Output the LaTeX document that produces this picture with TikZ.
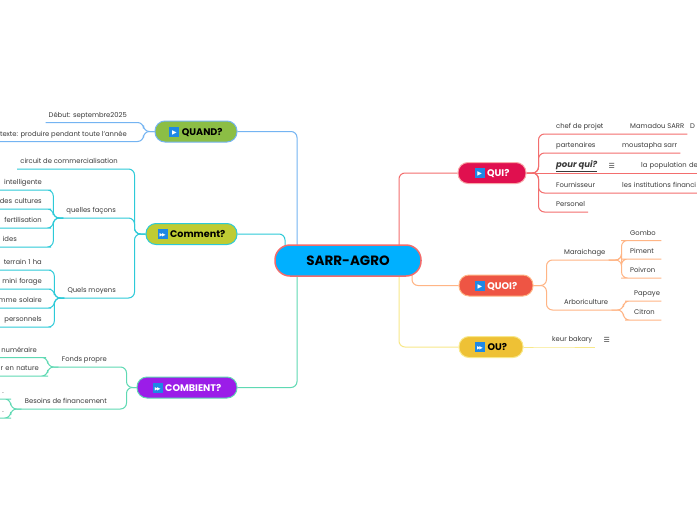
\documentclass[tikz,border=0pt]{standalone}
\usepackage{fontspec}
\setmainfont{Poppins}
\newfontfamily\symf{DejaVu Sans}
\usepackage{tikz}
\usetikzlibrary{positioning, backgrounds}
\definecolor{rootblue}{HTML}{00B0FF}
\definecolor{rootedge}{HTML}{F26B6B}
\definecolor{quandfill}{HTML}{8CBE45}
\definecolor{quandline}{HTML}{74B4F2}
\definecolor{commentfill}{HTML}{BFCC33}
\definecolor{commentline}{HTML}{2DCAD8}
\definecolor{combienfill}{HTML}{9B1DE8}
\definecolor{combienline}{HTML}{5FD9B3}
\definecolor{quifill}{HTML}{E0104F}
\definecolor{quiline}{HTML}{F36E6E}
\definecolor{quoifill}{HTML}{EE5544}
\definecolor{quoiline}{HTML}{FFB585}
\definecolor{oufill}{HTML}{EEC135}
\definecolor{ouline}{HTML}{F8E88A}
\definecolor{iconblue}{HTML}{1E88E5}
\definecolor{leafgray}{HTML}{3A3A3A}
\newcommand\iconbox[1]{\raisebox{-1.5pt}{\textcolor{iconblue}{\rule{10pt}{10pt}}}\hspace{-10pt}\makebox[10pt]{\raisebox{0.6pt}{\textcolor{white}{\symf\fontsize{6}{6}\selectfont #1}}}\hspace{2.5pt}}
\newcommand\playic{\iconbox{▶}}
\newcommand\ffwdic{\iconbox{\fontsize{4.6}{5}\selectfont▶\kern-1.2pt▶}}

\begin{document}
\begin{tikzpicture}[x=1pt, y=-1pt,
    root/.style={rectangle, rounded corners=15pt, fill=rootblue, draw=rootedge, line width=1.5pt, minimum width=146pt, minimum height=31pt, font=\fontsize{13.5}{16}\selectfont\bfseries},
    topic/.style={rectangle, rounded corners=10pt, line width=1pt, minimum height=21pt, inner sep=2pt, font=\fontsize{9.6}{11}\selectfont\bfseries},
    leaf/.style={font=\fontsize{6.8}{8}\selectfont, text=leafgray, inner xsep=3pt, inner ysep=3.5pt, text height=5pt, text depth=1.5pt},
    lleaf/.style={leaf, anchor=south east},
    rleaf/.style={leaf, anchor=south west},
    lcol/.style={lleaf, text width=60pt, align=right},
    rcol/.style={rleaf, align=left},
    link/.style={line width=1pt, rounded corners=6pt},
    note/.style={label={[font=\symf\fontsize{7}{8}\selectfont, text=leafgray, inner sep=0pt, xshift=8pt]east:☰}}
]
\useasboundingbox (0,0) rectangle (697,520);
\begin{scope}[on background layer]
\fill[white] (0,0) rectangle (697,520);
\end{scope}

\node[root] (root) at (348,260.5) {SARR-AGRO};
\node[topic, fill=quandfill, draw=quandline, minimum width=82pt] (quand) at (196,131.5) {\playic QUAND?};
\node[topic, fill=commentfill, draw=commentline, minimum width=91pt] (comment) at (191.5,234) {\ffwdic Comment?};
\node[topic, fill=combienfill, draw=combienline, text=white, minimum width=100pt] (combien) at (187,387.5) {\ffwdic COMBIENT?};
\node[topic, fill=quifill, draw=quiline!60, text=white, minimum width=68pt] (qui) at (492,173) {\playic QUI?};
\node[topic, fill=quoifill, draw=quoiline, text=white, minimum width=74pt] (quoi) at (496,285.5) {\playic QUOI?};
\node[topic, fill=oufill, draw=ouline, minimum width=64pt] (ou) at (491,347) {\ffwdic OU?};

\node[lleaf] (debut) at (130,122.5) {Début: septembre2025};
\node[lleaf] (contexte) at (130,141.5) {texte: produire pendant toute l'année};

\node[lleaf] (circuit) at (121,169) {circuit de commercialisation};
\node[lleaf] (facons) at (119,218) {quelles façons};
\node[lleaf] (moyens) at (119,298) {Quels moyens};
\node[lcol] (intel) at (45,190) {intelligente};
\node[lcol] (cult) at (45,209) {des cultures};
\node[lcol] (fert) at (45,228) {fertilisation};
\node[lcol, text width=39pt, align=left] (ides) at (45,247) {ides};
\node[lcol] (terrain) at (45,270) {terrain 1 ha};
\node[lcol] (forage) at (45,289) {mini forage};
\node[lcol] (solaire) at (45,308) {mme solaire};
\node[lcol] (perso) at (45,327) {personnels};

\node[lleaf] (fonds) at (110,367) {Fonds propre};
\node[lleaf] (besoins) at (110,409) {Besoins de financement};
\node[lcol] (numer) at (40,357.5) {numéraire};
\node[lcol] (nature) at (42,376) {r en nature};
\node[lleaf, inner xsep=1pt] (dota) at (5,399) {.};
\node[lleaf, inner xsep=1pt] (dotb) at (5,418) {.};

\node[rleaf] (chef) at (553,134) {chef de projet};
\node[rleaf] (mamadou) at (627,134) {Mamadou SARR};
\node[rleaf, inner xsep=1pt] (dnode) at (689,134) {D};
\node[rleaf] (part) at (553,153) {partenaires};
\node[rleaf] (moustapha) at (619,153) {moustapha sarr};
\node[rleaf, note, font=\fontsize{8.5}{10}\selectfont\bfseries\itshape] (pourqui) at (553,173) {\underline{pour qui?}};
\node[rcol, text width=70pt] (popul) at (638,173) {la population de};
\node[rleaf] (fourn) at (553,193) {Fournisseur};
\node[rcol, text width=80pt] (instit) at (619,193) {les institutions financi};
\node[rleaf] (personel) at (553,212) {Personel};

\node[rleaf] (mara) at (561,260) {Maraichage};
\node[rcol, text width=28pt] (gombo) at (627,240.5) {Gombo};
\node[rcol, text width=28pt] (piment) at (627,259) {Piment};
\node[rcol, text width=28pt] (poivron) at (627,278) {Poivron};
\node[rleaf] (arbo) at (561,310) {Arboriculture};
\node[rcol, text width=24pt] (papaye) at (631,301) {Papaye};
\node[rcol, text width=24pt] (citron) at (631,320) {Citron};

\node[rleaf, note] (keur) at (549,347) {keur bakary};

\begin{scope}[on background layer]
\draw[link, quandline] (quand.east) -| ([xshift=-51pt]root.center);
\draw[link, commentline] (comment.east) -| ([xshift=-63pt]root.center);
\draw[link, combienline] (combien.east) -| ([xshift=-51pt]root.center);
\draw[link, quiline] (qui.west) -| ([xshift=51pt]root.center);
\draw[link, quoiline] (quoi.west) -| ([xshift=64pt]root.center);
\draw[link, ouline] (ou.west) -| ([xshift=51pt]root.center);

\foreach \c in {debut, contexte}
  \draw[link, quandline] (quand.west) -- ++(-11,0) |- (\c.south east) -- (\c.south west);
\foreach \c in {circuit, facons, moyens}
  \draw[link, commentline] (comment.west) -- ++(-11,0) |- (\c.south east) -- (\c.south west);
\foreach \c in {intel, cult, fert, ides}
  \draw[link, commentline] (facons.south west) -- ++(-10,0) |- (\c.south east) -- (\c.south west);
\foreach \c in {terrain, forage, solaire, perso}
  \draw[link, commentline] (moyens.south west) -- ++(-10,0) |- (\c.south east) -- (\c.south west);
\foreach \c in {fonds, besoins}
  \draw[link, combienline] (combien.west) -- ++(-10,0) |- (\c.south east) -- (\c.south west);
\foreach \c in {numer, nature}
  \draw[link, combienline] (fonds.south west) -- ++(-11,0) |- (\c.south east) -- (\c.south west);
\foreach \c in {dota, dotb}
  \draw[link, combienline] (besoins.south west) -- ++(-11,0) |- (\c.south east) -- (\c.south west);

\draw[link, quiline] (qui.east) -- ++(12,0) |- (chef.south west) -- (mamadou.south east);
\draw[link, quiline] (qui.east) -- ++(12,0) |- (part.south west) -- (moustapha.south east);
\draw[link, quiline] (qui.east) -- (popul.south east);
\draw[link, quiline] (qui.east) -- ++(12,0) |- (fourn.south west) -- (instit.south east);
\draw[link, quiline] (qui.east) -- ++(12,0) |- (personel.south west) -- (personel.south east);

\foreach \c in {mara, arbo}
  \draw[link, quoiline] (quoi.east) -- ++(13,0) |- (\c.south west) -- (\c.south east);
\foreach \c in {gombo, piment, poivron}
  \draw[link, quoiline] (mara.south east) -- ++(13,0) |- (\c.south west) -- (\c.south east);
\foreach \c in {papaye, citron}
  \draw[link, quoiline] (arbo.south east) -- ++(12,0) |- (\c.south west) -- (\c.south east);

\draw[link, ouline] (ou.east) -- (keur.south west) -- (keur.south east);
\end{scope}
\end{tikzpicture}
\end{document}
